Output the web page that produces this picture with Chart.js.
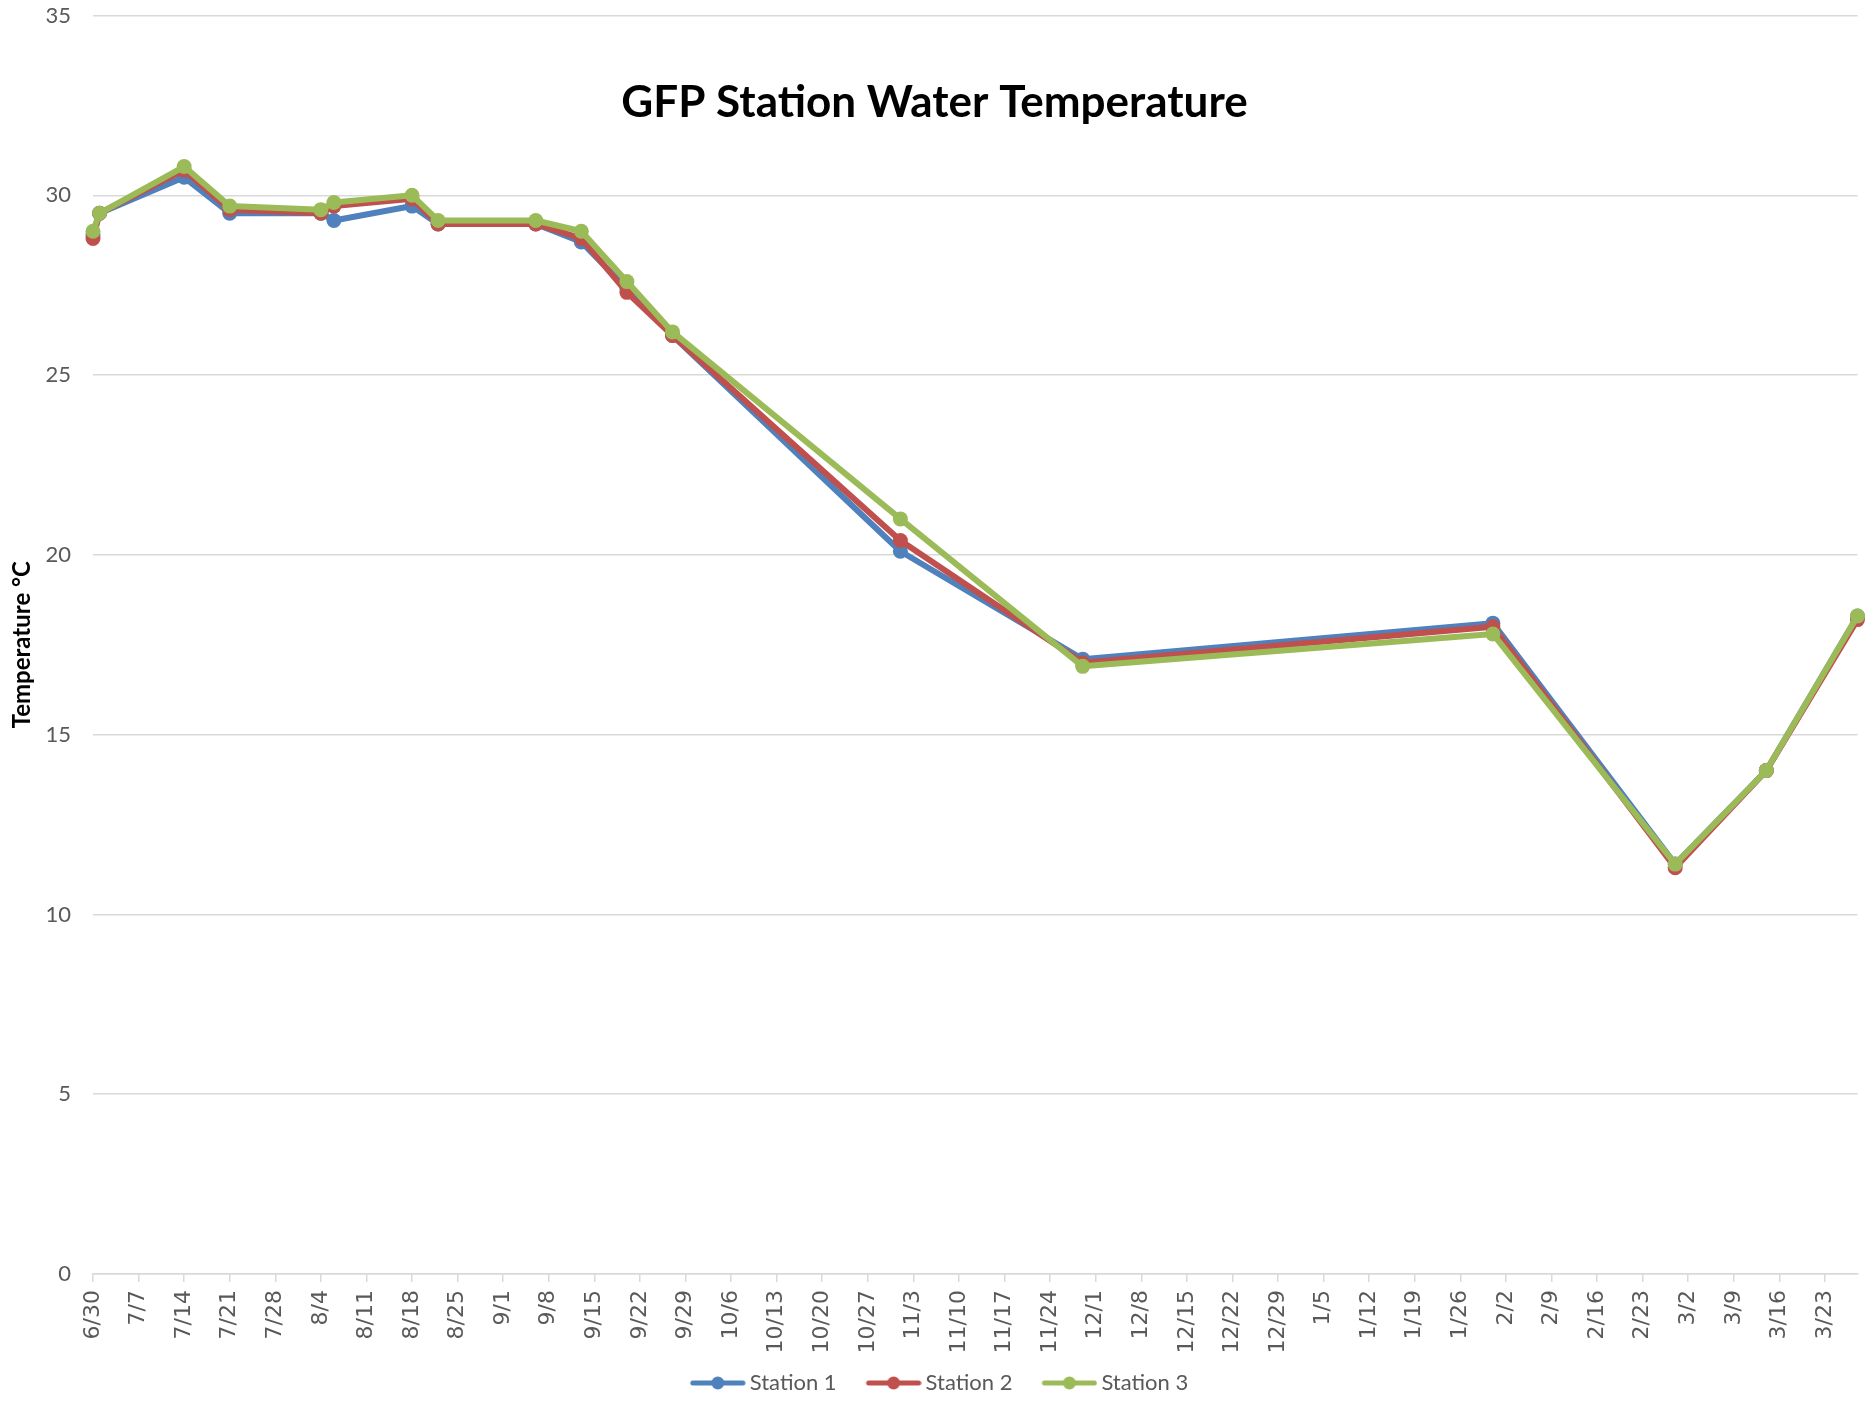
<!DOCTYPE html>
<html>
<head>
<meta charset="utf-8">
<title>GFP Station Water Temperature</title>
<script src="https://cdn.jsdelivr.net/npm/chart.js@4.4.1/dist/chart.umd.min.js"></script>
<style>
  html, body { margin: 0; padding: 0; background: #fff; }
  #wrap { width: 1865px; height: 1404px; position: relative; }
</style>
</head>
<body>
<div id="wrap"><canvas id="chart"></canvas></div>
<script>
// sample dates (first one is the start of the date axis)
var sampleDates = ['2014-06-30', '2014-07-01', '2014-07-14', '2014-07-21', '2014-08-04', '2014-08-06',
                   '2014-08-18', '2014-08-22', '2014-09-06', '2014-09-13', '2014-09-20', '2014-09-27',
                   '2014-11-01', '2014-11-29', '2015-01-31', '2015-02-28', '2015-03-14', '2015-03-28'];

var station1 = [28.9, 29.5, 30.5, 29.5, 29.5, 29.3, 29.7, 29.2, 29.2, 28.7, 27.4, 26.1, 20.1, 17.1, 18.1, 11.4, 14.0, 18.3];
var station2 = [28.8, 29.5, 30.7, 29.6, 29.5, 29.7, 29.9, 29.2, 29.2, 28.8, 27.3, 26.1, 20.4, 17.0, 18.0, 11.3, 14.0, 18.2];
var station3 = [29.0, 29.5, 30.8, 29.7, 29.6, 29.8, 30.0, 29.3, 29.3, 29.0, 27.6, 26.2, 21.0, 16.9, 17.8, 11.4, 14.0, 18.3];

var seriesNames = ['Station 1', 'Station 2', 'Station 3'];
var seriesColors = ['#4f81bd', '#c0504d', '#9bbb59'];

var yTicks = [0, 5, 10, 15, 20, 25, 30, 35];
var tickStepDays = 7;

var startDate = sampleDates[0];
function dayOffset(s) {
    var p = s.split('-');
    var q = startDate.split('-');
    return Math.round((Date.UTC(+p[0], p[1] - 1, +p[2]) - Date.UTC(+q[0], q[1] - 1, +q[2])) / 86400000);
}
var days = sampleDates.map(dayOffset);

function dayLabel(v) {
    var q = startDate.split('-');
    var d = new Date(+q[0], q[1] - 1, +q[2] + v);
    return (d.getMonth() + 1) + '/' + d.getDate();
}

function points(vals) {
    return vals.map(function (v, i) { return { x: days[i], y: v }; });
}

// legend swatch: line with a dot, drawn on the right part of a wider image
// so that it sits close to the label text (like the Excel legend)
var LEG_BOX = 68;
function swatch(color) {
    var c = document.createElement('canvas');
    c.width = 82; c.height = 16;
    var g = c.getContext('2d');
    g.strokeStyle = color;
    g.lineWidth = 5;
    g.lineCap = 'round';
    g.beginPath(); g.moveTo(29, 8); g.lineTo(79, 8); g.stroke();
    g.fillStyle = color;
    g.beginPath(); g.arc(54, 8, 6.5, 0, Math.PI * 2); g.fill();
    return c;
}
var swatches = seriesColors.map(swatch);

var allSeries = [station1, station2, station3];
var datasets = allSeries.map(function (vals, i) {
    return {
        label: seriesNames[i],
        data: points(vals),
        borderColor: seriesColors[i],
        backgroundColor: seriesColors[i],
        pointBackgroundColor: seriesColors[i],
        pointBorderWidth: 0,
        pointRadius: 7.5,
        pointHoverRadius: 7.5,
        borderWidth: 6,
        borderJoinStyle: 'round',
        borderCapStyle: 'round',
        tension: 0,
        order: allSeries.length - i,
        clip: false
    };
});

var titlePlugin = {
    id: 'bigTitle',
    afterDraw: function (chart) {
        var ctx = chart.ctx;
        ctx.save();
        ctx.font = 'bold 44px Lato';
        ctx.fillStyle = '#000';
        ctx.textAlign = 'center';
        ctx.textBaseline = 'alphabetic';
        ctx.fillText('GFP Station Water Temperature', chart.width / 2 + 2, 117);
        ctx.restore();
    }
};

var LEGEND_H = 22 + 10 + 10;
var AXIS_Y = 1274;

new Chart(document.getElementById('chart'), {
    type: 'line',
    data: { datasets: datasets },
    plugins: [titlePlugin],
    options: {
        responsive: true,
        maintainAspectRatio: false,
        animation: false,
        layout: { padding: { top: 15.5, right: 6, left: 0, bottom: 0 } },
        plugins: {
            title: { display: false },
            tooltip: { enabled: false },
            legend: {
                position: 'bottom',
                labels: {
                    usePointStyle: true,
                    pointStyleWidth: LEG_BOX,
                    padding: 10,
                    color: '#595959',
                    font: { family: 'Lato', size: 22 },
                    sort: function (a, b) { return a.datasetIndex - b.datasetIndex; },
                    generateLabels: function (chart) {
                        var items = Chart.defaults.plugins.legend.labels.generateLabels(chart);
                        items.forEach(function (it) { it.pointStyle = swatches[it.datasetIndex]; });
                        return items;
                    }
                }
            }
        },
        scales: {
            x: {
                type: 'linear',
                min: 0,
                max: days[days.length - 1],
                afterFit: function (axis) { axis.height = 1404 - LEGEND_H - AXIS_Y; },
                ticks: {
                    stepSize: tickStepDays,
                    includeBounds: false,
                    autoSkip: false,
                    maxRotation: 90,
                    minRotation: 90,
                    padding: 8,
                    color: '#595959',
                    font: { family: 'DejaVu Sans', size: 22 },
                    callback: function (v) { return dayLabel(v); }
                },
                grid: {
                    drawOnChartArea: false,
                    drawTicks: true,
                    tickLength: 8,
                    color: '#d9d9d9',
                    lineWidth: 1.5
                },
                border: { display: true, color: '#d9d9d9', width: 1.5 }
            },
            y: {
                min: yTicks[0],
                max: yTicks[yTicks.length - 1],
                afterFit: function (axis) {
                    axis.width = 93;
                    axis.paddingTop = 0;
                    axis.paddingBottom = 0;
                },
                afterBuildTicks: function (axis) {
                    axis.ticks = yTicks.map(function (v) { return { value: v }; });
                },
                ticks: {
                    padding: 22,
                    color: '#595959',
                    font: { family: 'Lato', size: 22 }
                },
                grid: {
                    color: '#d9d9d9',
                    lineWidth: 1.5,
                    drawTicks: false
                },
                border: { display: false },
                title: {
                    display: true,
                    text: 'Temperature °C',
                    color: '#000',
                    font: { family: 'Lato', size: 24, weight: 'bold' },
                    padding: { top: 8, bottom: 0 }
                }
            }
        }
    }
});
</script>
</body>
</html>
